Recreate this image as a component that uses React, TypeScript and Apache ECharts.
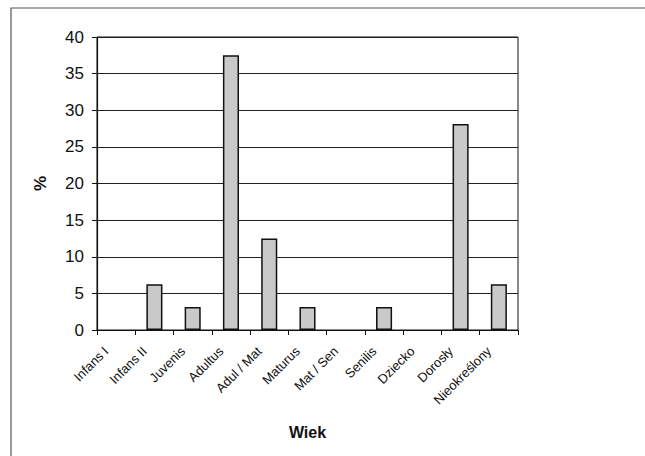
import React, { useEffect, useRef } from "react";
import * as echarts from "echarts";

const categories = [
  "Infans I",
  "Infans II",
  "Juvenis",
  "Adultus",
  "Adul / Mat",
  "Maturus",
  "Mat / Sen",
  "Senilis",
  "Dziecko",
  "Dorosły",
  "Nieokreślony",
];
const values = [0, 6.25, 3.125, 37.5, 12.5, 3.125, 0, 3.125, 0, 28.125, 6.25];
const yTicks = { min: 0, max: 40, interval: 5 };

export default function App() {
  const ref = useRef<HTMLDivElement>(null);
  useEffect(() => {
    document.body.style.margin = "0";
    const chart = echarts.init(ref.current!, null, { renderer: "svg" });
    chart.setOption({
      animation: false,
      backgroundColor: "#ffffff",
      textStyle: { fontFamily: "Liberation Sans, Arial, sans-serif" },
      graphic: [
        {
          type: "rect",
          shape: { x: 11, y: 8, width: 700, height: 520 },
          style: { fill: "none", stroke: "#555", lineWidth: 1.2 },
          silent: true,
        },
      ],
      grid: {
        left: 97,
        top: 37,
        right: 127,
        bottom: 126,
        show: true,
        borderColor: "#111",
        borderWidth: 1,
        backgroundColor: "transparent",
      },
      xAxis: {
        type: "category",
        data: categories,
        name: "Wiek",
        nameLocation: "middle",
        nameGap: 94,
        nameMoveOverlap: false,
        nameTextStyle: { fontSize: 16, fontWeight: "bold", color: "#111" },
        axisLine: { lineStyle: { color: "#111", width: 1.2 } },
        axisTick: { show: true, length: 5, lineStyle: { color: "#111" } },
        axisLabel: {
          rotate: 45,
          fontSize: 13,
          color: "#111",
          margin: 9,
          padding: [0, 14, 0, 0],
          interval: 0,
        },
      },
      yAxis: {
        type: "value",
        min: yTicks.min,
        max: yTicks.max,
        interval: yTicks.interval,
        name: "%",
        nameLocation: "middle",
        nameGap: 48,
        nameMoveOverlap: false,
        nameRotate: 90,
        nameTextStyle: { fontSize: 17, fontWeight: "bold", color: "#111" },
        axisLine: { show: true, lineStyle: { color: "#111", width: 1.2 } },
        axisTick: { show: true, length: 5, lineStyle: { color: "#111" } },
        axisLabel: { fontSize: 17, color: "#111", margin: 13 },
        splitLine: { show: true, lineStyle: { color: "#222", width: 1 } },
      },
      series: [
        {
          type: "bar",
          data: values.map((v) => (v === 0 ? "-" : v)),
          barWidth: "42%",
          itemStyle: {
            color: "#c9c9c9",
            borderColor: "#111",
            borderWidth: 1.5,
          },
        },
      ],
    });
    return () => chart.dispose();
  }, []);
  return <div ref={ref} style={{ width: 645, height: 456 }} />;
}
